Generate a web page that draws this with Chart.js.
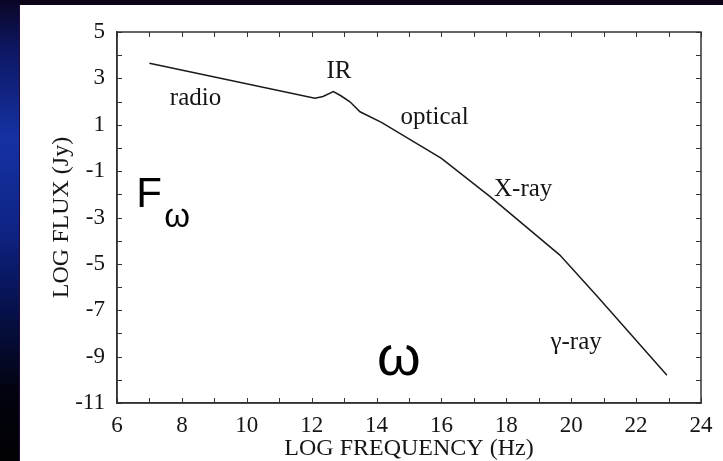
<!DOCTYPE html>
<html>
<head>
<meta charset="utf-8">
<script src="https://cdn.jsdelivr.net/npm/chart.js@4"></script>
<style>
  html, body { margin: 0; padding: 0; background: #000; }
  #wrap { position: relative; width: 723px; height: 461px; }
</style>
</head>
<body>
<div id="wrap"><canvas id="sed"></canvas></div>
<script>
// spectrum: log frequency (Hz) vs log flux (Jy)
const logFreq = [7.0, 12.1, 12.35, 12.67, 12.9, 13.18, 13.49, 14.15, 16.0, 17.5, 19.65, 20.8, 22.95];
const logFlux = [3.65, 2.14, 2.22, 2.43, 2.25, 1.99, 1.56, 1.1, -0.45, -2.1, -4.62, -6.4, -9.8];

const xTickValues = [6, 8, 10, 12, 14, 16, 18, 20, 22, 24];
const yTickValues = [5, 3, 1, -1, -3, -5, -7, -9, -11];

const bandNames = ["radio", "IR", "optical", "X-ray", "γ-ray"];

const serif = "'Liberation Serif', 'DejaVu Serif', serif";
const sans = "'Liberation Sans', Arial, sans-serif";
const ink = "#151515";

// slide background: dark top strip + bluish left strip, white card
const slideBg = {
    id: "slideBg",
    beforeDraw(chart) {
        const ctx = chart.ctx;
        const h = chart.height, w = chart.width;
        ctx.save();
        const g = ctx.createLinearGradient(0, 0, 0, h);
        g.addColorStop(0, "#0a0626");
        g.addColorStop(0.1, "#0d1660");
        g.addColorStop(0.3, "#1532a3");
        g.addColorStop(0.5, "#0e2385");
        g.addColorStop(0.68, "#061048");
        g.addColorStop(0.85, "#02030f");
        g.addColorStop(1, "#020104");
        ctx.fillStyle = g;
        ctx.fillRect(0, 0, 20, h);
        ctx.fillStyle = "#0d0418";
        ctx.fillRect(20, 0, w - 20, 5);
        ctx.fillStyle = "#2a0a3a";
        ctx.fillRect(19, 5, 1, h - 5);
        ctx.fillStyle = "#ffffff";
        ctx.fillRect(20, 5, w - 20, h - 5);
        ctx.restore();
    }
};

// box frame with small inward ticks at every unit on all four sides
const frame = {
    id: "frame",
    afterDraw(chart) {
        const {ctx, chartArea: a, scales: {x, y}} = chart;
        ctx.save();
        ctx.strokeStyle = "#333";
        ctx.lineWidth = 1.5;
        ctx.strokeRect(a.left, a.top, a.right - a.left, a.bottom - a.top);
        ctx.lineWidth = 1;
        ctx.beginPath();
        for (let v = x.min; v <= x.max; v++) {
            const px = Math.round(x.getPixelForValue(v)) + 0.5;
            ctx.moveTo(px, a.bottom); ctx.lineTo(px, a.bottom - 5);
            ctx.moveTo(px, a.top); ctx.lineTo(px, a.top + 5);
        }
        for (let v = y.min; v <= y.max; v++) {
            const py = Math.round(y.getPixelForValue(v)) + 0.5;
            ctx.moveTo(a.left, py); ctx.lineTo(a.left + 5, py);
            ctx.moveTo(a.right, py); ctx.lineTo(a.right - 5, py);
        }
        ctx.stroke();
        ctx.restore();
    }
};

// band names and the F_omega / omega notes, placed in data units
const notes = {
    id: "notes",
    afterDatasetsDraw(chart) {
        const {ctx, scales: {x, y}} = chart;
        const spots = [[8.42, 2.13], [12.84, 3.28], [15.79, 1.33], [18.52, -1.81], [20.15, -8.37]];
        ctx.save();
        ctx.fillStyle = ink;
        ctx.textAlign = "center";
        ctx.textBaseline = "middle";
        ctx.font = "25px " + serif;
        bandNames.forEach((name, i) => {
            ctx.fillText(name, x.getPixelForValue(spots[i][0]), y.getPixelForValue(spots[i][1]));
        });

        ctx.fillStyle = "#000";
        ctx.textBaseline = "alphabetic";
        ctx.font = "42px " + sans;
        ctx.fillText("F", x.getPixelForValue(6.99), y.getPixelForValue(-2.55));
        ctx.font = "33px " + sans;
        ctx.fillText("ω", x.getPixelForValue(7.85), y.getPixelForValue(-3.4));
        ctx.font = "56px " + sans;
        ctx.fillText("ω", x.getPixelForValue(14.69), y.getPixelForValue(-9.8));
        ctx.restore();
    }
};

new Chart(document.getElementById("sed"), {
    type: "scatter",
    data: {
        datasets: [{
            data: logFreq.map((f, i) => ({x: f, y: logFlux[i]})),
            showLine: true,
            borderColor: "#1a1a1a",
            borderWidth: 1.5,
            pointRadius: 0,
            tension: 0,
            fill: false
        }]
    },
    options: {
        responsive: true,
        maintainAspectRatio: false,
        animation: false,
        devicePixelRatio: 1,
        layout: { padding: { left: 20, top: 32, right: 22, bottom: 0 } },
        plugins: { legend: { display: false }, tooltip: { enabled: false } },
        scales: {
            x: {
                type: "linear",
                position: "bottom",
                min: 6,
                max: 24,
                afterBuildTicks: s => { s.ticks = xTickValues.map(v => ({value: v})); },
                afterFit: s => { s.height = 58; },
                grid: { drawOnChartArea: false, drawTicks: false },
                border: { color: "#333", width: 1.5 },
                ticks: { color: ink, padding: 9, font: { family: serif, size: 23 } },
                title: {
                    display: true,
                    text: "LOG FREQUENCY (Hz)",
                    color: ink,
                    padding: { top: 0, bottom: 0 },
                    font: { family: serif, size: 24, lineHeight: 1.0 }
                }
            },
            y: {
                type: "linear",
                min: -11,
                max: 5,
                afterBuildTicks: s => { s.ticks = yTickValues.map(v => ({value: v})); },
                afterFit: s => { s.width = 97; },
                grid: { drawOnChartArea: false, drawTicks: false },
                border: { color: "#333", width: 1.5 },
                ticks: { color: ink, padding: 12, font: { family: serif, size: 23 } },
                title: {
                    display: true,
                    text: "LOG FLUX (Jy)",
                    color: ink,
                    padding: { top: 27, bottom: 0 },
                    font: { family: serif, size: 24 }
                }
            }
        }
    },
    plugins: [slideBg, frame, notes]
});
</script>
</body>
</html>
